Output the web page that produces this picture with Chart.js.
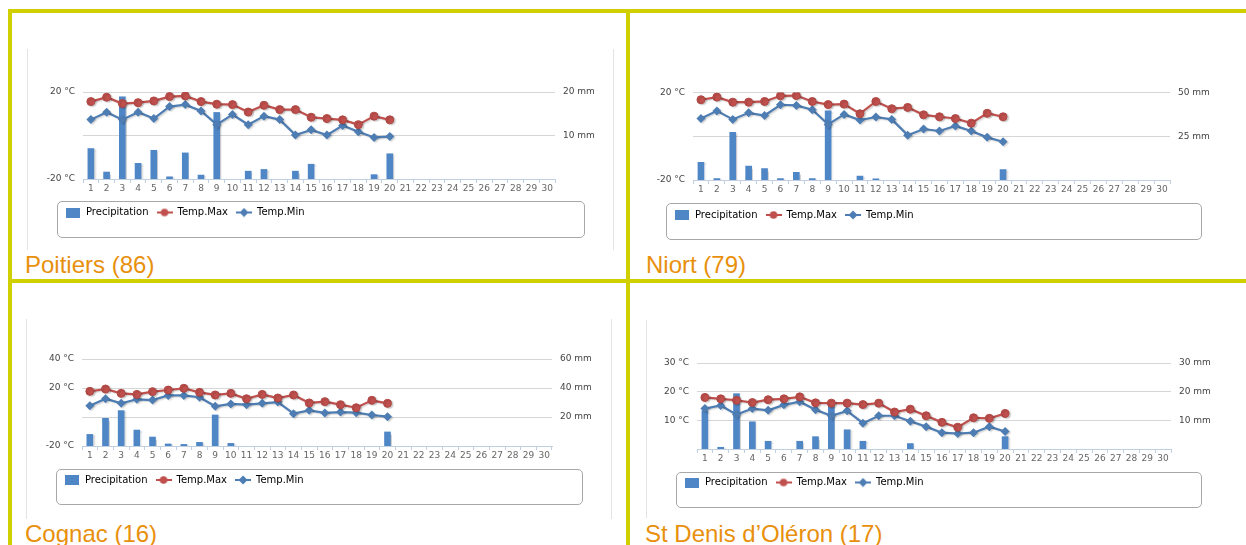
<!DOCTYPE html>
<html>
<head>
<meta charset="utf-8">
<script src="https://cdn.jsdelivr.net/npm/chart.js@4.4.1/dist/chart.umd.min.js"></script>
<style>
  body { margin: 0; width: 1246px; height: 545px; overflow: hidden; background: #fff; position: relative; }
  .bar { position: absolute; background: #d0d000; }
  .side { position: absolute; width: 1px; background: #e4e4e4; }
  .legbox { position: absolute; border: 1px solid #a8a8a8; border-radius: 5px; box-sizing: border-box; }
  .title { position: absolute; font-family: "Liberation Sans", Arial, sans-serif; font-size: 24px; line-height: 24px; color: #e8900c; white-space: nowrap; }
  canvas { position: absolute; }
</style>
</head>
<body>
<!-- yellow table borders -->
<div class="bar" style="left:8px;top:9px;width:4px;height:536px"></div>
<div class="bar" style="left:8px;top:9px;width:1238px;height:4px"></div>
<div class="bar" style="left:626px;top:9px;width:4px;height:536px"></div>
<div class="bar" style="left:8px;top:279px;width:1238px;height:4px"></div>

<!-- faint panel edges -->
<div class="side" style="left:27px;top:49px;height:201px"></div>
<div class="side" style="left:613px;top:49px;height:201px"></div>
<div class="side" style="left:26px;top:319px;height:200px"></div>
<div class="side" style="left:611px;top:319px;height:200px"></div>
<div class="side" style="left:646px;top:320px;height:198px"></div>

<!-- legend frames -->
<div class="legbox" style="left:57px;top:201px;width:528px;height:37px"></div>
<div class="legbox" style="left:666px;top:203px;width:536px;height:37px"></div>
<div class="legbox" style="left:56px;top:469px;width:527px;height:36px"></div>
<div class="legbox" style="left:676px;top:472px;width:526px;height:36px"></div>

<canvas id="poitiers"></canvas>
<canvas id="niort"></canvas>
<canvas id="cognac"></canvas>
<canvas id="stdenis"></canvas>

<div class="title" style="left:25px;top:253px">Poitiers (86)</div>
<div class="title" style="left:646px;top:253px">Niort (79)</div>
<div class="title" style="left:25px;top:522px">Cognac (16)</div>
<div class="title" style="left:645px;top:522px">St Denis d’Oléron (17)</div>

<script>
// jours du mois
var days = ['1','2','3','4','5','6','7','8','9','10','11','12','13','14','15','16','17','18','19','20',
            '21','22','23','24','25','26','27','28','29','30'];

// Poitiers
var poitiersRain = [7.0,1.6,18.9,3.6,6.6,0.5,6.0,0.9,15.3,0,1.8,2.2,0,1.8,3.4,0,0,0,1.0,5.8,null,null,null,null,null,null,null,null,null,null];
var poitiersMax  = [15.6,17.6,14.7,15.1,15.9,17.9,18.2,15.6,14.4,14.2,10.8,13.9,11.9,11.9,8.4,7.8,7.2,5.0,8.9,7.2,null,null,null,null,null,null,null,null,null,null];
var poitiersMin  = [7.3,10.7,7.3,10.7,7.8,13.3,14.2,11.3,5.0,9.6,5.0,8.9,7.3,0.2,2.6,0.2,4.6,1.7,-0.9,-0.5,null,null,null,null,null,null,null,null,null,null];
var poitiersTempTicks = [-20, 0, 20];
var poitiersRainTicks = [0, 10, 20];

// Niort
var niortRain = [10.1,0.8,27.2,8.0,6.5,0.8,4.4,0.8,39.5,0,2.3,0.6,0,0,0,0,0,0,0,5.9,null,null,null,null,null,null,null,null,null,null];
var niortMax  = [16.7,17.9,15.6,15.6,15.9,18.5,18.6,15.9,14.5,14.7,10.3,15.9,12.6,13.2,9.8,8.9,8.1,6.0,10.5,8.9,null,null,null,null,null,null,null,null,null,null];
var niortMin  = [8.1,11.6,7.7,10.7,9.5,14.4,14.1,12.1,5.4,10.0,7.4,8.8,7.7,0.5,3.3,2.4,4.7,2.4,-0.5,-2.5,null,null,null,null,null,null,null,null,null,null];
var niortTempTicks = [-20, 0, 20];
var niortRainTicks = [0, 25, 50];

// Cognac
var cognacRain = [8.0,19.1,24.4,11.0,6.2,1.4,1.1,2.5,21.4,1.8,0,0,0,0,0,0,0,0,0,9.7,null,null,null,null,null,null,null,null,null,null];
var cognacMax  = [17.7,19.3,16.3,15.6,17.5,18.6,19.8,17.0,15.2,16.3,12.6,15.6,13.1,15.2,9.7,10.6,8.5,6.4,11.5,9.4,null,null,null,null,null,null,null,null,null,null];
var cognacMin  = [7.8,12.6,9.4,12.2,11.7,14.9,14.9,13.6,7.4,9.0,8.5,9.4,10.3,2.3,4.6,2.8,3.4,3.0,1.4,0.2,null,null,null,null,null,null,null,null,null,null];
var cognacTempTicks = [-20, 0, 20, 40];
var cognacRainTicks = [0, 20, 40, 60];

// St Denis d'Oleron
var stdenisRain = [13.3,0.6,19.3,9.5,2.7,0,2.7,4.3,16.0,6.7,2.7,0,0,1.9,0,0,0,0,0,4.3,null,null,null,null,null,null,null,null,null,null];
var stdenisMax  = [18.0,17.5,17.0,16.2,17.2,17.5,18.2,16.1,16.0,16.0,15.5,16.0,12.9,13.9,11.6,9.3,7.6,10.9,10.7,12.4,null,null,null,null,null,null,null,null,null,null];
var stdenisMin  = [14.1,15.2,12.0,14.1,13.5,15.4,16.5,13.7,11.6,13.3,9.0,11.6,11.6,9.7,7.8,5.7,5.4,5.7,7.8,6.1,null,null,null,null,null,null,null,null,null,null];
var stdenisTempTicks = [0, 10, 20, 30];
var stdenisRainTicks = [0, 10, 20, 30];

var rainColor = '#4f86c6';
var maxColor = '#c0504d';
var minColor = '#4d7db3';
var font = 'DejaVu Sans';

// petites icones de legende (trait + marqueur)
function legendIcon(kind, color) {
  var c = document.createElement('canvas');
  c.width = 16; c.height = 10;
  var g = c.getContext('2d');
  g.fillStyle = color; g.strokeStyle = color;
  if (kind == 'rect') {
    g.fillRect(1, 0, 14, 10);
  } else {
    g.lineWidth = 2;
    g.beginPath(); g.moveTo(0, 5); g.lineTo(16, 5); g.stroke();
    g.beginPath();
    if (kind == 'circle') {
      g.arc(8, 5, 3.8, 0, Math.PI * 2);
    } else {
      g.moveTo(8, 0.5); g.lineTo(12.5, 5); g.lineTo(8, 9.5); g.lineTo(3.5, 5); g.closePath();
    }
    g.fill();
  }
  return c;
}
var icons = [legendIcon('rect', rainColor), legendIcon('circle', maxColor), legendIcon('diamond', minColor)];

var shadow = {
  id: 'shadow',
  beforeDatasetsDraw: function(chart) {
    var c = chart.ctx;
    c.save();
    c.shadowColor = 'rgba(0,0,0,0.18)';
    c.shadowOffsetX = 1.5;
    c.shadowOffsetY = 1;
    c.shadowBlur = 1.5;
  },
  afterDatasetsDraw: function(chart) { chart.ctx.restore(); }
};

function makeChart(id, rain, tmax, tmin, tTicks, rTicks, g) {
  var el = document.getElementById(id);
  el.style.left = g.cl + 'px';
  el.style.top = g.ct + 'px';
  el.style.width = (g.cr - g.cl) + 'px';
  el.style.height = (g.cb - g.ct) + 'px';
  var legendTop = g.legY - 8 - 5;
  var xAxisH = legendTop - g.pb;
  var padBottom = g.cb - (legendTop + 28);
  // jours sans pluie : pas de barre
  var bars = rain.map(function(v) { return v === 0 ? null : v; });

  // decale la legende sous le cadre
  var legendShift = {
    id: 'legendShift',
    beforeDraw: function(chart) { chart.legend.left = g.legL - g.cl; }
  };

  return new Chart(el, {
    type: 'bar',
    data: {
      labels: days,
      datasets: [
        { type: 'bar', label: 'Precipitation', data: bars, yAxisID: 'y1', backgroundColor: rainColor,
          barThickness: 6, order: 3 },
        { type: 'line', label: 'Temp.Max', data: tmax, yAxisID: 'y', borderColor: maxColor,
          backgroundColor: maxColor, borderWidth: 2.2, pointRadius: 4, pointStyle: 'circle',
          pointBorderColor: '#b04744', pointBorderWidth: 1, tension: 0, order: 1 },
        { type: 'line', label: 'Temp.Min', data: tmin, yAxisID: 'y', borderColor: minColor,
          backgroundColor: minColor, borderWidth: 2.2, pointRadius: 4.5, pointStyle: 'rectRot',
          pointBorderWidth: 0, tension: 0, order: 2 }
      ]
    },
    options: {
      responsive: false,
      animation: false,
      events: [],
      layout: { padding: { left: 0, top: g.pt - g.ct, right: 0, bottom: padBottom } },
      plugins: {
        tooltip: { enabled: false },
        legend: {
          position: 'bottom',
          align: 'start',
          labels: {
            usePointStyle: true,
            pointStyleWidth: 16,
            padding: 8,
            color: '#333',
            font: { family: font, size: 10 },
            generateLabels: function(chart) {
              return chart.data.datasets.map(function(ds, i) {
                return { text: ds.label, pointStyle: icons[i], datasetIndex: i,
                         fillStyle: 'transparent', strokeStyle: 'transparent', lineWidth: 0 };
              });
            }
          }
        }
      },
      scales: {
        x: {
          offset: true,
          grid: { display: true, drawOnChartArea: false, drawTicks: true, tickLength: 4, color: '#c0d0e0', offset: true },
          border: { display: true, color: '#c0d0e0' },
          ticks: { autoSkip: false, maxRotation: 0, minRotation: 0, padding: 0, color: '#666',
                   font: { family: font, size: 9 } },
          afterFit: function(s) { s.height = xAxisH; }
        },
        y: {
          position: 'left',
          min: tTicks[0], max: tTicks[tTicks.length - 1],
          ticks: { stepSize: tTicks[1] - tTicks[0], padding: 8, color: '#444', font: { family: font, size: 9 },
                   callback: function(v) { return v === 0 ? '' : v + ' °C'; } },
          grid: { drawTicks: false, color: function(c) { return c.tick && c.tick.value === tTicks[0] ? 'rgba(0,0,0,0)' : '#d6d6d6'; } },
          border: { display: false },
          afterFit: function(s) { s.width = g.pl - g.cl; }
        },
        y1: {
          position: 'right',
          min: rTicks[0], max: rTicks[rTicks.length - 1],
          ticks: { stepSize: rTicks[1] - rTicks[0], padding: 8, color: '#444', font: { family: font, size: 9 },
                   callback: function(v) { return v === 0 ? '' : v + ' mm'; } },
          grid: { display: false, drawTicks: false },
          border: { display: false },
          afterFit: function(s) { s.width = g.cr - g.pr; }
        }
      }
    },
    plugins: [shadow, legendShift]
  });
}

makeChart('poitiers', poitiersRain, poitiersMax, poitiersMin, poitiersTempTicks, poitiersRainTicks,
  { cl: 42, ct: 50, cr: 605, cb: 245, pl: 83, pt: 92, pr: 555, pb: 179, legL: 57, legY: 212.5 });
makeChart('niort', niortRain, niortMax, niortMin, niortTempTicks, niortRainTicks,
  { cl: 650, ct: 50, cr: 1225, cb: 248, pl: 693, pt: 92.5, pr: 1170, pb: 180, legL: 666, legY: 215 });
makeChart('cognac', cognacRain, cognacMax, cognacMin, cognacTempTicks, cognacRainTicks,
  { cl: 40, ct: 320, cr: 605, cb: 512, pl: 82, pt: 359, pr: 552, pb: 446, legL: 56, legY: 480 });
makeChart('stdenis', stdenisRain, stdenisMax, stdenisMin, stdenisTempTicks, stdenisRainTicks,
  { cl: 655, ct: 325, cr: 1225, cb: 515, pl: 697, pt: 363, pr: 1171, pb: 449, legL: 676, legY: 482.5 });
</script>
</body>
</html>
